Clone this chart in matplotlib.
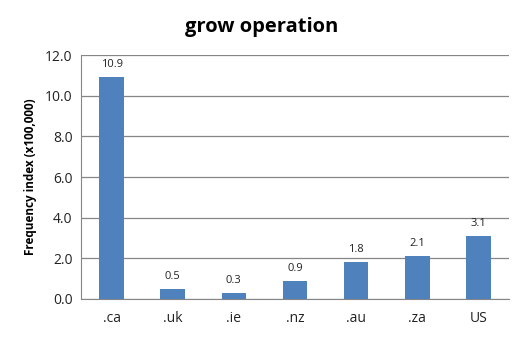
import matplotlib
matplotlib.use('Agg')
import matplotlib.pyplot as plt

categories = ['.ca', '.uk', '.ie', '.nz', '.au', '.za', 'US']
values = [10.9, 0.5, 0.3, 0.9, 1.8, 2.1, 3.1]

plt.rcParams['font.family'] = ['Open Sans', 'DejaVu Sans']

fig = plt.figure(figsize=(5.28, 3.38), dpi=100)
ax = fig.add_axes([0.1534, 0.1154, 0.8106, 0.7216])

x = range(len(categories))
bars = ax.bar(x, values, width=0.4, color='#4F81BD', zorder=3)
for xi, v in zip(x, values):
    ax.text(xi, v + 0.35, f"{v:.1f}", ha='center', va='bottom', fontsize=8, color='#222222')

ax.set_xlim(-0.5, len(categories) - 0.5)
ax.set_ylim(0, 12)
ax.set_yticks([0, 2, 4, 6, 8, 10, 12])
ax.set_yticklabels([f"{t:.1f}" for t in [0, 2, 4, 6, 8, 10, 12]])
ax.set_xticks(list(x))
ax.set_xticklabels(categories)
ax.tick_params(axis='both', labelsize=10, length=0, colors='#222222')
ax.tick_params(axis='x', pad=9)
ax.tick_params(axis='y', pad=6)
ax.yaxis.grid(True, color='#868686', linewidth=0.9, zorder=0)
for s in ['top', 'right']:
    ax.spines[s].set_visible(False)
ax.spines['left'].set_color('#868686')
ax.spines['bottom'].set_color('#868686')

ax.set_ylabel('Frequency index (x100,000)', fontsize=8.5, fontweight='bold', labelpad=6)
fig.text(0.496, 0.92, 'grow operation', ha='center', va='center', fontsize=14.5, fontweight='bold')

fig.savefig('out.png', dpi=100)
